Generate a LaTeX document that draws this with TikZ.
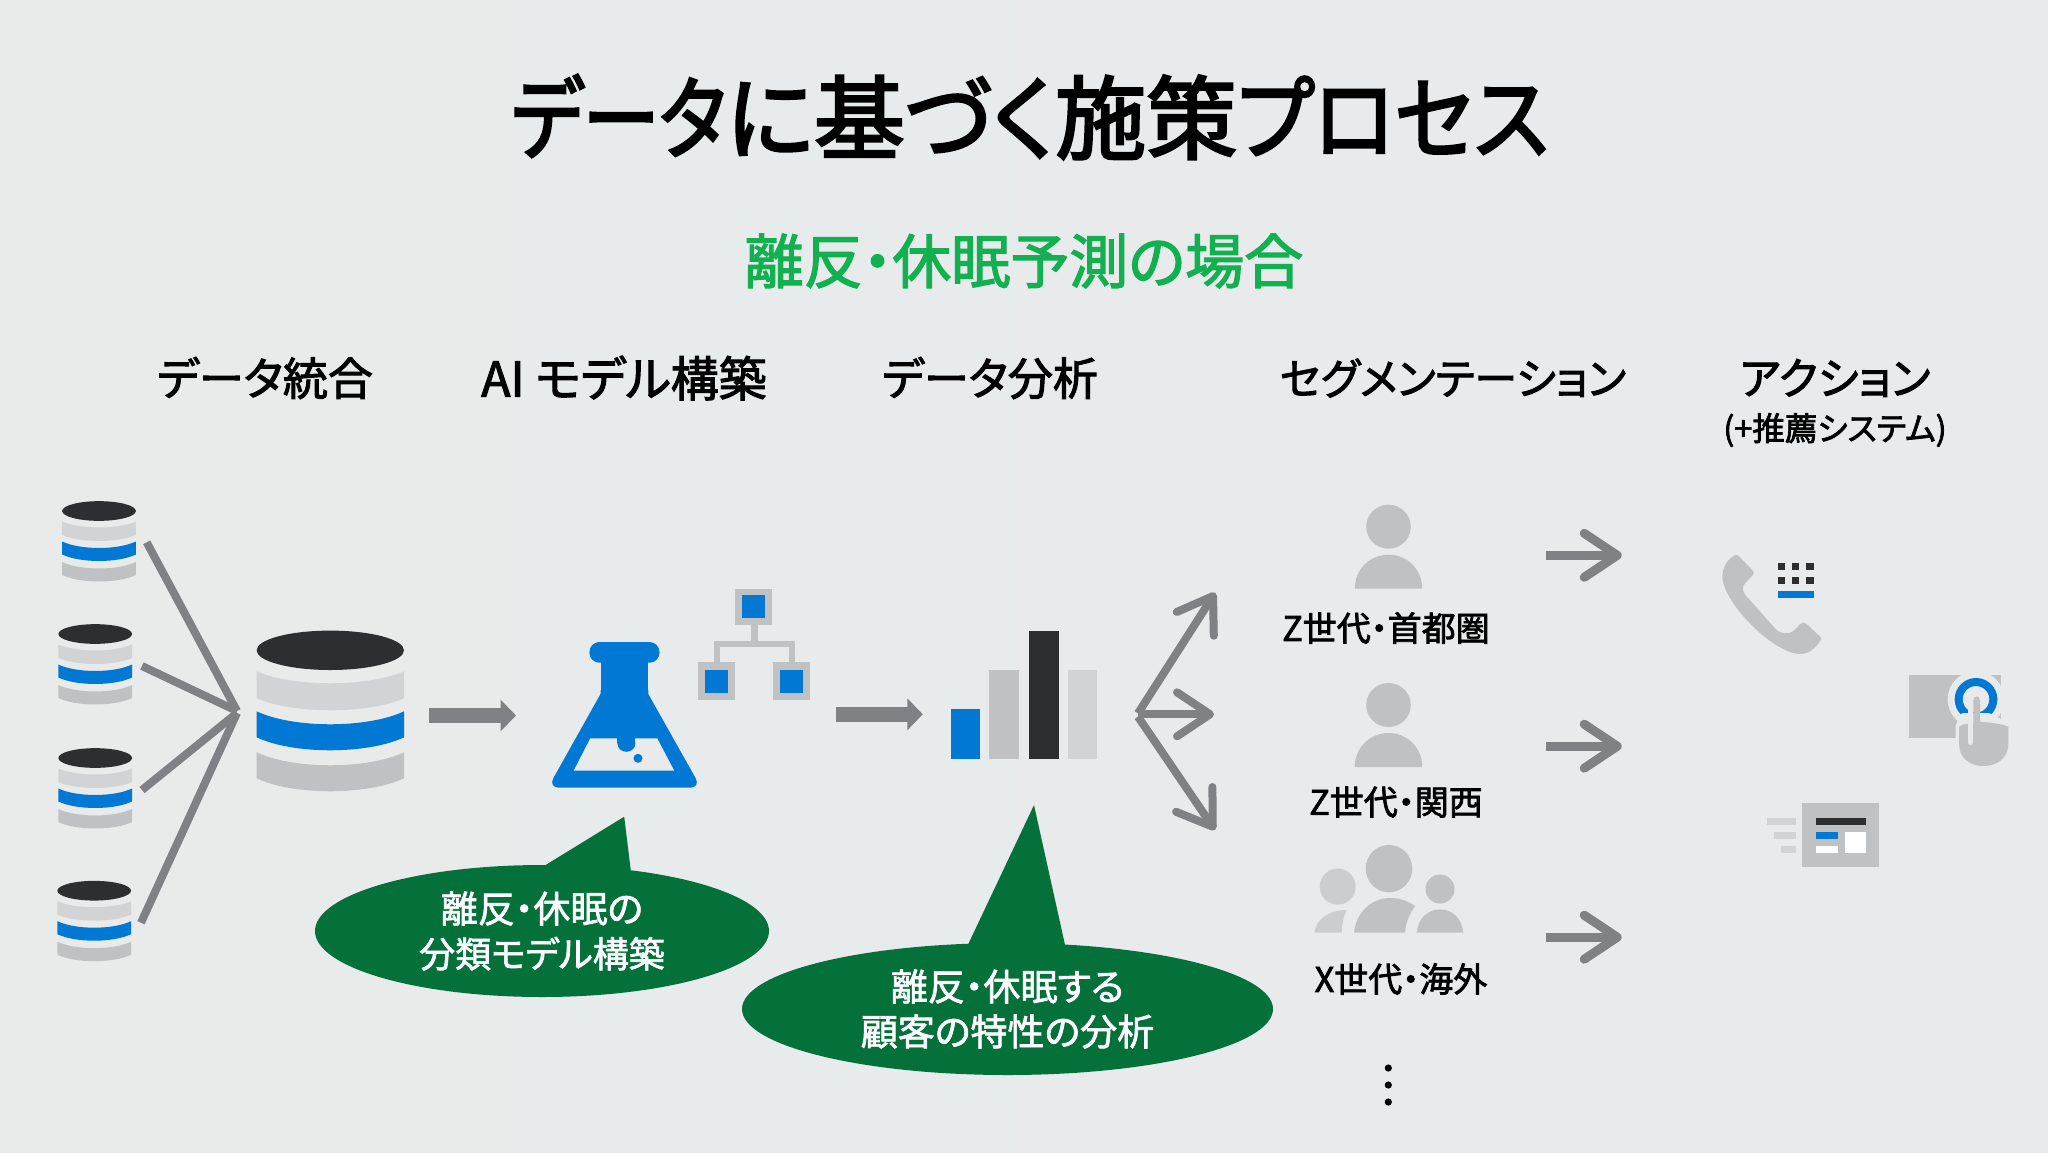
\documentclass[tikz,border=0pt]{standalone}
\usepackage{fontspec}
\usepackage{graphicx}
\usetikzlibrary{arrows.meta,shapes.geometric}
\newfontfamily\jp[RawFeature={+palt},FakeBold=1.8]{Noto Sans CJK JP}
\newfontfamily\jpm[RawFeature={+palt},FakeBold=2.2]{Noto Sans CJK JP}
\newfontfamily\jpt[RawFeature={+palt},FakeBold=2.8]{Noto Sans CJK JP}
\definecolor{bgc}{HTML}{E8EAEC}
\definecolor{bgl}{HTML}{E8EBEA}
\definecolor{msblue}{HTML}{0078D4}
\definecolor{inkdark}{HTML}{2D2E30}
\definecolor{gl}{HTML}{D2D3D5}
\definecolor{gm}{HTML}{C0C1C3}
\definecolor{darkgreen}{HTML}{05713A}
\definecolor{brightgreen}{HTML}{12B050}
\definecolor{arrowgray}{HTML}{808184}
\newcommand{\fs}[1]{\fontsize{#1}{#1}\selectfont}
\newcommand{\dblayer}[4]{\fill[#1] (-73.7,#2) .. controls (-37,{#2+1.33*#3}) and (37,{#2+1.33*#3}) .. (73.7,#2) -- (73.7,{#2+#4}) .. controls (37,{#2+#4+1.33*#3}) and (-37,{#2+#4+1.33*#3}) .. (-73.7,{#2+#4}) -- cycle;}
\newcommand{\dbicon}[3]{\begin{scope}[shift={(#1,#2)},scale=#3]
\fill[inkdark] (0,0) ellipse [x radius=73.7,y radius=19.7];
\dblayer{gl}{21}{12}{27}
\dblayer{msblue}{61}{13}{26}
\dblayer{gm}{102}{13}{26}
\end{scope}}
\newcommand{\personicon}[1]{\begin{scope}[shift={(1388.5,#1)}]
\fill[gm] (0,0) ellipse [x radius=22.3,y radius=22];
\fill[gm] (-33.7,62) .. controls (-33.7,42) and (-18,28) .. (0,28) .. controls (18,28) and (33.7,42) .. (33.7,62) -- cycle;
\end{scope}}
\tikzset{
 x=1pt,y=-1pt,
 thick line/.style={draw=arrowgray,line width=8pt},
 blockarrow/.style={draw=arrowgray,line width=15.5pt,-{Triangle[length=15.5pt,width=31pt]}},
 openarrow/.style={draw=arrowgray,line width=8pt,-{Straight Barb[round,length=33pt,width=44pt]}},
 callout/.style={ellipse,fill=darkgreen,text=white,inner sep=0pt,align=center,font=\jp\fontsize{37}{45}\selectfont},
 heading/.style={inner sep=0pt,font=\jpm\fs{45}},
 seglabel/.style={inner sep=0pt,font=\jpm\fs{34},text=black},
}
\begin{document}
\begin{tikzpicture}
\useasboundingbox (0,0) rectangle (2048,1152);
\shade[left color=bgl,right color=bgc] (0,0) rectangle (2048,1152);
% titles
\node[inner sep=0pt,font=\jpt\fs{91}] (title) at (1030,117) {\scalebox{.845}[1]{データ}に基づく施策\scalebox{.914}[1]{プロセス}};
\node[inner sep=0pt,font=\jpm\fs{59},text=brightgreen] (subtitle) at (1024,261) {離反・休眠予測の場合};
\node[heading] (h1) at (265,378) {データ統合};
\node[heading,font=\jpm\fs{48}] (h2) at (624,378) {AI モデル構築};
\node[heading] (h3) at (990,378) {データ分析};
\node[heading,font=\jpm\fs{43}] (h4) at (1453,378) {セグメンテーション};
\node[heading,font=\jpm\fs{44}] (h5) at (1835,378) {アクション};
\node[inner sep=0pt,font=\jpm\fs{32.5}] (h5b) at (1835,430) {(+推薦システム)};
% databases
\dbicon{99}{511}{0.5}
\dbicon{95.2}{634}{0.5}
\dbicon{95.2}{758}{0.5}
\dbicon{94.2}{890.7}{0.5}
\dbicon{330.3}{650.3}{1}
\coordinate (l1) at (146.7,542.3); \coordinate (l2) at (142,666);
\coordinate (l3) at (142,790); \coordinate (l4) at (141,922.7);
\coordinate (m1) at (237,711); \coordinate (m2) at (237,713);
\draw[thick line] (l1) -- (m1);
\draw[thick line] (l2) -- (m1);
\draw[thick line] (l3) -- (m2);
\draw[thick line] (l4) -- (m2);
\coordinate (a1s) at (429.3,715.5); \coordinate (a1e) at (516,715.5);
\draw[blockarrow] (a1s) -- (a1e);
% flask
\fill[msblue,rounded corners=10pt] (589.4,642) rectangle (659.5,662.7);
\fill[msblue] (600.5,655) rectangle (648.3,700);
\fill[msblue] (600.5,690) -- (600.5,694) [rounded corners=11pt] -- (548,787.7) -- (701,787.7) [sharp corners] -- (648.3,694) -- (648.3,690) -- cycle;
\fill[bgc] (590.3,738.3) -- (657.2,738.3) -- (674.2,770.7) -- (573.7,770.7) -- cycle;
\fill[msblue] (626.4,743.3) ellipse [x radius=9,y radius=8.5];
\fill[msblue] (617.4,736) rectangle (635.4,743);
\fill[msblue] (638,758.3) ellipse [x radius=4.5,y radius=4.5];
% tree
\draw[gm,line width=7pt] (754,624) -- (754,644);
\draw[gm,line width=6pt] (716.6,662) -- (716.6,644) -- (791.6,644) -- (791.6,662);
\fill[gm] (735.3,589) rectangle (772.4,624.7);
\fill[msblue] (742,595) rectangle (765.3,618);
\fill[gm] (697.8,662.3) rectangle (735.3,700);
\fill[msblue] (705,670) rectangle (727.8,692.7);
\fill[gm] (772.8,662.3) rectangle (809.5,700);
\fill[msblue] (780,670) rectangle (803.2,692.7);
\coordinate (a2s) at (835.8,714.3); \coordinate (a2e) at (922.8,714.3);
\draw[blockarrow] (a2s) -- (a2e);
% bars
\fill[msblue] (950.5,709) rectangle (980,758.7);
\fill[gm] (989.3,670) rectangle (1018.8,758.7);
\fill[inkdark] (1028.6,630.7) rectangle (1058.5,758.7);
\fill[gl] (1067.5,670) rectangle (1097,758.7);
% fan arrows
\coordinate (f1) at (1138,713.3); \coordinate (f2) at (1138,714.3); \coordinate (f3) at (1138,716.7);
\coordinate (t1) at (1215.2,592.7); \coordinate (t2) at (1214,714.3); \coordinate (t3) at (1215,830);
\draw[openarrow] (f1) -- (t1);
\draw[openarrow] (f2) -- (t2);
\draw[openarrow] (f3) -- (t3);
% callouts
\fill[darkgreen] (624.2,816.7) -- (545.6,865) -- (631,872) -- cycle;
\fill[darkgreen] (1034,805) -- (966.4,948) -- (1065.7,948) -- cycle;
\node[callout,minimum width=454pt,minimum height=132pt] (c1) at (542,931) {離反・休眠の\\{\fontsize{36}{45}\selectfont 分類モデル構築}};
\node[callout,minimum width=531pt,minimum height=132pt] (c2) at (1007.5,1009) {離反・休眠する\\顧客の特性の分析};
% persons
\personicon{526.7}
\personicon{705}
\node[seglabel] (s1) at (1386,628) {Z世代・首都圏};
\node[seglabel] (s2) at (1396,802) {Z世代・関西};
\node[seglabel] (s3) at (1401,979) {X世代・海外};
% group
\fill[gm!70!bgc] (1337.7,886.6) circle (18pt);
\fill[gm] (1440,889) circle (14.5pt);
\fill[gm] (1389,868.6) ellipse [x radius=23.3,y radius=23.7];
\fill[gm!70!bgc] (1314.3,932.7) .. controls (1316,920) and (1328,910) .. (1346.7,910) .. controls (1343,918) and (1342,925) .. (1341.7,932.7) -- cycle;
\fill[gm] (1354,932.7) .. controls (1356,912) and (1372,898) .. (1390,898) .. controls (1400,898) and (1408,901) .. (1415,906) .. controls (1411,912) and (1406,920) .. (1405,932.7) -- cycle;
\fill[gm] (1416.7,932.7) .. controls (1418,918) and (1428,909.4) .. (1440,909.4) .. controls (1452,909.4) and (1462,918) .. (1463.3,932.7) -- cycle;
% dots
\foreach \yy in {1068,1085,1102}{\fill[black] (1388.3,\yy) circle (3.6pt);}
% right arrows
\coordinate (r1s) at (1546,555.3); \coordinate (r1e) at (1621.7,555.3);
\coordinate (r2s) at (1546,746.2); \coordinate (r2e) at (1621.7,746.2);
\coordinate (r3s) at (1546,937.2); \coordinate (r3e) at (1621.7,937.2);
\draw[openarrow,line width=9pt] (r1s) -- (r1e);
\draw[openarrow,line width=9pt] (r2s) -- (r2e);
\draw[openarrow,line width=9pt] (r3s) -- (r3e);
% action icons, in 3x zoom coordinates
\begin{scope}[shift={(1700,530)},scale=1/3]
\fill[gm] (105,76) .. controls (85,85) and (67,110) .. (67,140) .. controls (70,220) and (220,370) .. (300,372) .. controls (330,372) and (350,350) .. (362,330) .. controls (365,325) and (364,323) .. (360,320) -- (320,282) .. controls (312,275) and (305,278) .. (300,283) -- (280,303) .. controls (265,315) and (240,312) .. (225,295) -- (145,205) .. controls (125,185) and (125,170) .. (135,160) -- (158,135) .. controls (165,128) and (160,122) .. (155,118) -- (118,80) .. controls (112,74) and (108,74) .. (105,76) -- cycle;
\foreach \xa/\xb in {235/256,277/298,319/341}{
 \fill[inkdark] (\xa,99) rectangle (\xb,120);
 \fill[inkdark] (\xa,141) rectangle (\xb,162);}
\fill[msblue] (234,183) rectangle (341,205);
% touch
\fill[gm] (628,435) rectangle (903,625);
\fill[bgc] (828,508) circle (85);
\draw[msblue,line width=8pt] (828,508) circle (52);
\draw[bgc,fill=bgc,line width=7pt,line join=round] (777,590) -- (790,560) -- (866,560) -- (925,590) -- (925,640) .. controls (925,685) and (890,708) .. (850,708) .. controls (810,708) and (777,685) .. (777,640) -- cycle;
\fill[gm] (777,590) .. controls (790,580) and (810,580) .. (820,582) -- (820,512) .. controls (820,495) and (840,495) .. (840,512) -- (840,575) .. controls (870,578) and (900,580) .. (925,590) -- (925,640) .. controls (925,685) and (890,708) .. (850,708) .. controls (810,708) and (777,685) .. (777,640) -- cycle;
\draw[bgc,line width=5.5pt,line cap=round] (811,530) -- (811,637);
% card
\fill[gm] (306,820) rectangle (537,1012);
\fill[inkdark] (349,864) rectangle (498,885);
\fill[msblue] (349,906) rectangle (413,928);
\fill[white] (349,948) rectangle (413,970);
\fill[white] (434,906) rectangle (498,970);
\fill[gl] (202,864) rectangle (288,885);
\fill[gl] (223,906) rectangle (288,928);
\fill[gl] (244,948) rectangle (288,970);
\end{scope}
\end{tikzpicture}
\end{document}
